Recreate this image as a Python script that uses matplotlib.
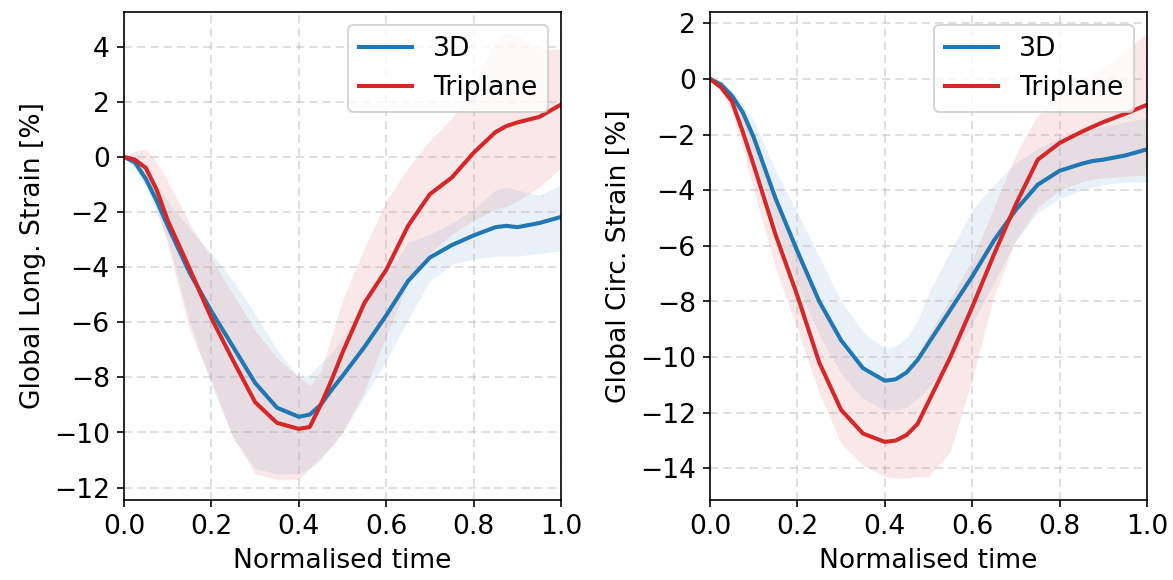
import matplotlib
matplotlib.use("Agg")
import matplotlib.pyplot as plt
import numpy as np

plt.rcParams['font.size'] = 13

# normalised time samples
t = [0, 0.025, 0.05, 0.075, 0.1, 0.15, 0.2, 0.25, 0.3, 0.35, 0.4, 0.425, 0.45,
     0.475, 0.5, 0.55, 0.6, 0.65, 0.7, 0.75, 0.8, 0.85, 0.875, 0.9, 0.95, 1.0]

# Global longitudinal strain [%]
gls_3d = [0, -0.2, -0.8, -1.6, -2.5, -4.2, -5.6, -6.9, -8.2, -9.1, -9.43, -9.35, -9.0,
          -8.45, -7.95, -6.9, -5.75, -4.5, -3.65, -3.2, -2.85, -2.55, -2.5, -2.55, -2.4, -2.18]
gls_3d_hi = [0, 0.0, -0.4, -1.0, -1.6, -2.6, -3.5, -4.5, -5.7, -7.0, -8.0, -7.9, -7.5,
             -7.1, -6.6, -5.3, -4.3, -3.1, -2.8, -2.4, -1.9, -1.2, -1.1, -1.2, -1.4, -1.0]
gls_3d_lo = [0, -0.4, -1.1, -2.0, -3.0, -6.0, -8.3, -10.2, -11.3, -11.5, -11.5, -11.3, -11.0,
             -10.5, -10.0, -8.7, -7.4, -5.9, -4.5, -3.9, -3.7, -3.6, -3.6, -3.6, -3.5, -3.4]
gls_tri = [0, -0.1, -0.4, -1.2, -2.3, -4.05, -5.85, -7.4, -8.9, -9.65, -9.87, -9.8, -9.0,
           -8.1, -7.1, -5.3, -4.1, -2.5, -1.35, -0.75, 0.15, 0.9, 1.12, 1.25, 1.45, 1.9]
gls_tri_hi = [0, 0.2, 0.3, -0.2, -0.9, -2.4, -3.7, -5.0, -6.3, -7.3, -8.0, -8.3, -7.8,
              -6.5, -5.2, -3.3, -1.6, -0.4, 0.6, 1.4, 2.6, 4.2, 4.5, 4.4, 3.9, 3.9]
gls_tri_lo = [0, -0.3, -0.9, -1.9, -3.2, -6.3, -8.1, -10.2, -11.5, -11.7, -11.7, -11.3, -10.9,
              -10.5, -10.0, -8.5, -6.5, -4.6, -3.5, -2.8, -2.3, -1.9, -1.8, -1.6, -1.1, -0.4]

# Global circumferential strain [%]
gcs_3d = [0, -0.2, -0.6, -1.2, -2.1, -4.3, -6.2, -8.0, -9.4, -10.4, -10.85, -10.8, -10.55,
          -10.1, -9.5, -8.3, -7.1, -5.8, -4.7, -3.8, -3.3, -3.05, -2.95, -2.9, -2.75, -2.53]
gcs_3d_hi = [0, -0.05, -0.4, -0.9, -1.5, -3.3, -4.8, -6.4, -8.0, -9.1, -9.7, -9.6, -9.3,
             -8.7, -7.7, -6.2, -4.7, -3.8, -3.0, -2.5, -2.1, -1.9, -1.8, -1.7, -1.55, -1.4]
gcs_3d_lo = [0, -0.3, -0.8, -1.6, -2.7, -5.2, -7.4, -9.2, -10.6, -11.5, -11.9, -11.9, -11.8,
             -11.5, -11.1, -10.1, -8.8, -7.3, -5.8, -4.8, -4.3, -4.0, -3.9, -3.8, -3.7, -3.7]
gcs_tri = [0, -0.3, -0.8, -1.9, -3.1, -5.6, -7.8, -10.2, -11.9, -12.75, -13.05, -13.0, -12.8,
           -12.4, -11.6, -10.0, -8.2, -6.3, -4.5, -2.9, -2.3, -1.9, -1.72, -1.55, -1.25, -0.93]
gcs_tri_hi = [0, -0.1, -0.5, -1.2, -2.0, -4.2, -6.0, -8.0, -9.6, -10.5, -10.9, -10.9, -10.6,
              -10.0, -9.2, -7.9, -6.5, -4.6, -2.7, -1.3, -0.6, -0.1, 0.15, 0.4, 1.0, 1.65]
gcs_tri_lo = [0, -0.4, -1.2, -2.5, -4.0, -6.8, -9.0, -11.3, -13.1, -13.9, -14.3, -14.35, -14.35,
              -14.3, -14.3, -13.4, -10.8, -7.8, -5.8, -4.6, -4.0, -3.7, -3.6, -3.55, -3.5, -3.45]

blue = '#1f77b4'
red = '#d62728'

fig = plt.figure(figsize=(8, 3.956), dpi=146.625)
ax1 = fig.add_axes([0.1057, 0.1379, 0.3726, 0.8414])
ax2 = fig.add_axes([0.6053, 0.1379, 0.3726, 0.8414])

panels = [
    (ax1, gls_3d, gls_3d_lo, gls_3d_hi, gls_tri, gls_tri_lo, gls_tri_hi,
     'Global Long. Strain [%]', (-12.45, 5.26), np.arange(-12, 5, 2)),
    (ax2, gcs_3d, gcs_3d_lo, gcs_3d_hi, gcs_tri, gcs_tri_lo, gcs_tri_hi,
     'Global Circ. Strain [%]', (-15.14, 2.41), np.arange(-14, 3, 2)),
]

for ax, m3, lo3, hi3, mt, lot, hit, ylabel, ylim, yticks in panels:
    ax.plot(t, m3, color=blue, lw=2, label='3D')
    ax.fill_between(t, lo3, hi3, color=blue, alpha=0.1, lw=0)
    ax.plot(t, mt, color=red, lw=2, label='Triplane')
    ax.fill_between(t, lot, hit, color=red, alpha=0.1, lw=0)
    ax.set_xlim(0, 1)
    ax.set_ylim(*ylim)
    ax.set_yticks(yticks)
    ax.set_xlabel('Normalised time')
    ax.set_ylabel(ylabel)
    ax.grid(True, color='#b0b0b0', lw=1, dashes=(4, 2.5), alpha=0.4)
    ax.legend(loc='upper right')

fig.savefig('out.png', dpi=146.625)
